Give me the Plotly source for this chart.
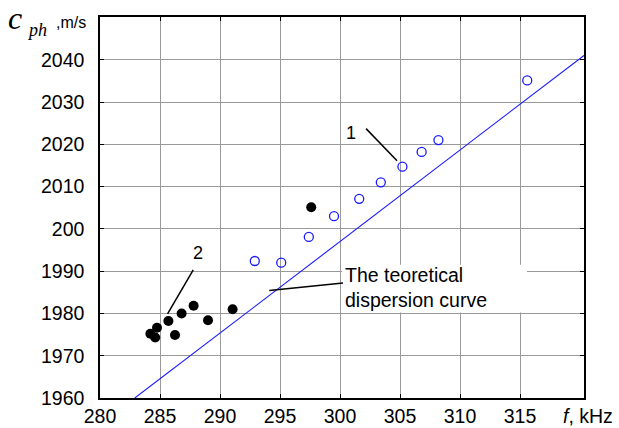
import plotly.graph_objects as go

# Series 1: open blue circles (experiment 1)
f1 = [292.9, 295.1, 297.4, 299.5, 301.6, 303.4, 305.2, 306.8, 308.2, 315.6]
c1 = [1992.4, 1992.0, 1998.1, 2003.0, 2007.1, 2011.0, 2014.7, 2018.2, 2021.0, 2035.1]

# Series 2: filled black dots (experiment 2)
f2 = [284.2, 284.6, 284.75, 285.7, 286.25, 286.8, 287.8, 289.0, 291.05, 297.6]
c2 = [1975.2, 1974.3, 1976.6, 1978.2, 1974.9, 1980.0, 1981.8, 1978.4, 1981.0, 2005.1]

# Theoretical dispersion curve
f_th = [282.9, 320.33]
c_th = [1960.0, 2041.0]

x_ticks = [280, 285, 290, 295, 300, 305, 310, 315]
x_labels = ["280", "285", "290", "295", "300", "305", "310", "315"]
y_ticks = [1960, 1970, 1980, 1990, 2000, 2010, 2020, 2030, 2040]
y_labels = ["1960", "1970", "1980", "1990", "200", "2010", "2020", "2030", "2040"]

FONT = "Liberation Sans, Arial, sans-serif"
SERIF = "Liberation Serif, Times New Roman, serif"

# plot area geometry (pixels)
W, H = 619, 428
L, R, T, B = 100, 35, 17, 30
pw, ph = W - L - R, H - T - B


def px(xp, yp):
    return (xp - L) / pw, (H - B - yp) / ph


fig = go.Figure()
fig.add_trace(go.Scatter(x=f_th, y=c_th, mode="lines",
                         line=dict(color="#1a1aff", width=1.1),
                         hoverinfo="skip", showlegend=False))
fig.add_trace(go.Scatter(x=f1, y=c1, mode="markers",
                         marker=dict(symbol="circle-open", size=9,
                                     color="#1a1aff", line=dict(width=1.3)),
                         showlegend=False))
fig.add_trace(go.Scatter(x=f2, y=c2, mode="markers",
                         marker=dict(symbol="circle", size=10, color="black"),
                         showlegend=False))

axis_common = dict(showgrid=True, gridcolor="#9a9a9a", gridwidth=1,
                   showline=True, linecolor="black", linewidth=1.5,
                   mirror="ticks", ticks="inside", ticklen=4,
                   tickcolor="black", zeroline=False, automargin=False,
                   tickfont=dict(family=FONT, size=19.5, color="black"))

fig.update_xaxes(range=[280, 320.33], tickmode="array", tickvals=x_ticks,
                 ticktext=x_labels, ticklabelstandoff=0, **axis_common)
fig.update_yaxes(range=[1960, 2050.1], tickmode="array", tickvals=y_ticks,
                 ticktext=y_labels, ticklabelstandoff=10, **axis_common)

shapes = [
    # white box behind the theoretical curve label
    dict(type="rect", xref="x", yref="y", x0=300.17, x1=315.58,
         y0=1980.2, y1=1991.5, fillcolor="white", line=dict(width=0),
         layer="above"),
    # leader lines
    dict(type="line", xref="x", yref="y", x0=302.17, y0=2023.7,
         x1=304.75, y1=2016.1, line=dict(color="black", width=1.5)),
    dict(type="line", xref="x", yref="y", x0=287.77, y0=1990.3,
         x1=285.63, y1=1979.9, line=dict(color="black", width=1.5)),
    dict(type="line", xref="x", yref="y", x0=300.25, y0=1987.2,
         x1=294.11, y1=1985.4, line=dict(color="black", width=1.5)),
]
fig.update_layout(shapes=shapes)

ann = []


def add_text(text, xp, yp, size, family=FONT, xanchor="center"):
    xx, yy = px(xp, yp)
    ann.append(dict(text=text, x=xx, y=yy, xref="paper", yref="paper",
                    showarrow=False, xanchor=xanchor, yanchor="middle",
                    font=dict(family=family, size=size, color="black")))


add_text("1", 351, 133, 18)
add_text("2", 198, 253, 18)
xx, yy = px(343, 288)
ann.append(dict(text="The teoretical<br>dispersion curve", x=xx, y=yy,
                xref="paper", yref="paper", showarrow=False,
                xanchor="left", yanchor="middle", align="left",
                font=dict(family=FONT, size=19.5, color="black")))
add_text("<i>f</i>, kHz", 561, 416, 19.5, xanchor="left")
add_text("<i>c</i>", 15, 18, 32, family=SERIF)
add_text("<i>ph</i>", 37, 30, 18, family=SERIF)
add_text(",m/s", 71, 23, 16)

fig.update_layout(annotations=ann, width=W, height=H,
                  margin=dict(l=L, r=R, t=T, b=B, autoexpand=False),
                  paper_bgcolor="white", plot_bgcolor="white")

fig.write_html("out.html", config={"displayModeBar": False},
               post_script="document.body.style.margin='0';")
